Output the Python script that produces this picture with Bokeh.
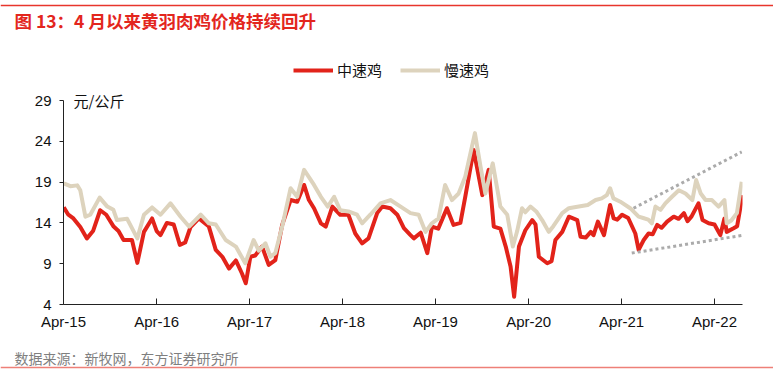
import pandas as pd
from bokeh.plotting import figure
from bokeh.layouts import column
from bokeh.models import (FixedTicker, DatetimeTickFormatter, Label, Legend, LegendItem,
                          Range1d, Span)
from bokeh.embed import file_html
from bokeh.resources import INLINE

# ---------------- data ----------------
title_text = "图 13：4 月以来黄羽肉鸡价格持续回升"
source_text = "数据来源：新牧网，东方证券研究所"
unit_text = "元/公斤"
series_names = ["中速鸡", "慢速鸡"]

mid_dates = ["2015-04-02", "2015-04-20", "2015-05-10", "2015-06-06", "2015-07-02", "2015-07-26",
             "2015-08-23", "2015-09-16", "2015-10-15", "2015-11-03", "2015-11-23", "2015-12-26",
             "2016-01-16", "2016-02-11", "2016-03-14", "2016-04-01", "2016-04-16", "2016-05-11",
             "2016-06-07", "2016-07-01", "2016-07-22", "2016-08-12", "2016-09-14", "2016-10-23",
             "2016-11-19", "2016-12-15", "2017-01-10", "2017-02-06", "2017-03-02", "2017-03-17",
             "2017-04-04", "2017-04-23", "2017-05-20", "2017-06-15", "2017-07-11", "2017-08-07",
             "2017-09-09", "2017-10-05", "2017-11-01", "2017-11-20", "2017-12-10", "2018-01-06",
             "2018-01-25", "2018-02-20", "2018-03-23", "2018-04-24", "2018-05-21", "2018-06-17",
             "2018-07-12", "2018-08-15", "2018-09-04", "2018-10-06", "2018-11-02", "2018-11-28",
             "2018-12-24", "2019-01-06", "2019-02-02", "2019-02-28", "2019-03-18", "2019-04-12",
             "2019-05-16", "2019-06-11", "2019-07-08", "2019-07-27", "2019-08-29", "2019-10-02",
             "2019-10-27", "2019-11-16", "2019-12-12", "2020-01-02", "2020-01-21", "2020-02-04",
             "2020-02-23", "2020-03-19", "2020-04-15", "2020-04-28", "2020-05-11", "2020-06-13",
             "2020-06-30", "2020-07-15", "2020-08-11", "2020-09-06", "2020-10-09", "2020-10-22",
             "2020-11-11", "2020-12-01", "2020-12-12", "2020-12-29", "2021-01-22", "2021-02-15",
             "2021-03-01", "2021-03-15", "2021-04-03", "2021-04-27", "2021-05-25", "2021-06-07",
             "2021-06-27", "2021-07-16", "2021-08-01", "2021-08-19", "2021-09-05", "2021-09-27",
             "2021-10-23", "2021-11-11", "2021-12-02", "2021-12-16", "2022-01-01", "2022-01-28",
             "2022-02-13", "2022-03-09", "2022-04-01", "2022-04-24", "2022-05-10", "2022-05-19",
             "2022-06-15", "2022-06-29", "2022-07-20"]
mid_values = [15.9, 15.0, 14.55, 13.5, 12.1, 13.0,
              15.55, 15.0, 13.55, 13.0, 11.9, 11.9,
              9.1, 12.9, 14.55, 13.0, 12.5, 14.0,
              13.8, 11.3, 11.6, 13.5, 14.55, 13.55,
              10.7, 9.85, 8.4, 9.4, 7.8, 6.6,
              9.85, 10.0, 11.1, 8.85, 9.45, 13.75,
              16.8, 16.6, 18.65, 16.8, 15.8, 13.95,
              13.55, 16.0, 15.0, 15.0, 12.7, 11.5,
              12.1, 15.2, 16.0, 15.8, 15.0, 13.35,
              12.5, 12.1, 12.8, 10.3, 13.55, 13.3,
              15.8, 13.75, 14.0, 17.2, 22.95, 17.4,
              20.5, 13.55, 13.3, 11.1, 8.65, 4.95,
              11.1, 13.1, 14.35, 13.8, 9.85, 9.05,
              9.3, 11.9, 12.9, 14.76, 14.35, 12.3,
              12.2, 12.9, 12.5, 14.15, 12.5, 16.2,
              14.55, 14.4, 15.0, 14.6, 12.7, 10.7,
              11.9, 12.7, 12.6, 13.75, 13.4, 14.15,
              14.76, 14.5, 15.2, 14.2, 14.8, 16.4,
              14.35, 13.95, 13.8, 12.5, 14.55, 12.9,
              13.35, 13.6, 17.4]

slow_dates = ["2015-04-02", "2015-04-28", "2015-05-25", "2015-06-06", "2015-06-26", "2015-07-15",
              "2015-08-21", "2015-09-20", "2015-10-14", "2015-10-28", "2015-12-07", "2016-01-16",
              "2016-02-11", "2016-03-14", "2016-04-16", "2016-05-25", "2016-07-04", "2016-08-06",
              "2016-09-21", "2016-10-23", "2016-11-19", "2016-12-28", "2017-02-06", "2017-03-15",
              "2017-04-17", "2017-05-07", "2017-06-02", "2017-06-22", "2017-07-11", "2017-08-07",
              "2017-09-09", "2017-10-05", "2017-11-01", "2017-11-20", "2017-12-10", "2018-01-06",
              "2018-02-02", "2018-02-27", "2018-03-23", "2018-04-24", "2018-05-28", "2018-06-17",
              "2018-07-19", "2018-08-28", "2018-10-06", "2018-11-15", "2018-12-24", "2019-01-25",
              "2019-02-21", "2019-03-18", "2019-04-13", "2019-05-09", "2019-06-05", "2019-07-01",
              "2019-07-27", "2019-09-03", "2019-09-25", "2019-10-14", "2019-11-12", "2019-12-12",
              "2020-01-08", "2020-01-30", "2020-02-16", "2020-03-06", "2020-03-19", "2020-04-08",
              "2020-05-01", "2020-05-24", "2020-06-19", "2020-07-07", "2020-08-11", "2020-09-06",
              "2020-10-15", "2020-11-19", "2020-12-20", "2021-01-13", "2021-02-02", "2021-02-15",
              "2021-02-28", "2021-03-27", "2021-05-05", "2021-06-07", "2021-06-25", "2021-07-15",
              "2021-07-29", "2021-08-12", "2021-09-01", "2021-09-20", "2021-10-16", "2021-11-12",
              "2021-12-08", "2022-01-04", "2022-01-19", "2022-02-06", "2022-02-25", "2022-03-22",
              "2022-04-17", "2022-05-10", "2022-05-19", "2022-06-06", "2022-06-28", "2022-07-17"]
slow_values = [18.85, 18.5, 18.6, 18.0, 14.76, 15.0,
               17.1, 16.0, 15.6, 14.35, 14.5, 12.1,
               15.0, 15.9, 15.0, 16.4, 14.76, 13.55,
               15.0, 13.95, 13.8, 11.9, 11.1, 9.05,
               11.9, 10.6, 11.5, 9.85, 10.3, 13.55,
               18.25, 17.2, 20.5, 19.6, 18.65, 17.2,
               16.0, 17.2, 15.55, 15.4, 15.0, 13.95,
               15.0, 16.4, 16.8, 16.0, 15.2, 15.0,
               12.9, 13.95, 14.55, 18.65, 16.8, 17.6,
               19.65, 25.0, 20.9, 17.6, 21.3, 16.0,
               15.0, 11.1, 13.0, 15.8, 15.3, 16.0,
               15.4, 14.35, 12.9, 13.6, 15.2, 15.8,
               16.0, 16.2, 16.8, 17.0, 17.4, 18.25,
               17.0, 16.6, 15.8, 14.76, 14.6, 14.4,
               13.95, 16.0, 15.6, 16.4, 17.2, 18.0,
               17.6, 16.8, 19.25, 17.6, 16.8, 16.8,
               16.0, 16.8, 13.95, 14.3, 15.2, 19.05]

trend_upper_dates = ["2021-05-18", "2022-07-17"]
trend_upper_values = [15.8, 22.7]
trend_lower_dates = ["2021-05-11", "2022-07-24"]
trend_lower_values = [10.3, 12.5]

tick_dates = ["2015-04-01", "2016-04-01", "2017-04-01", "2018-04-01",
              "2019-04-01", "2020-04-01", "2021-04-01", "2022-04-01"]
tick_labels = ["Apr-15", "Apr-16", "Apr-17", "Apr-18", "Apr-19", "Apr-20", "Apr-21", "Apr-22"]
y_ticks = [4, 9, 14, 19, 24, 29]

# ---------------- styling ----------------
RED = "#E2231A"
BEIGE = "#DDD3BD"
CJK = "Noto Sans CJK SC"
LAT = "Liberation Sans"
W = 773
H_HEAD, H_MAIN, H_FOOT = 56, 284, 34   # page rows: 0-56, 56-340, 340-374
FRAME_L, FRAME_R = 63, 742            # page x of the plot frame
FRAME_B = 304                         # page y of the x axis
PX_PER_UNIT = 204 / 25.0              # 25 units (4..29) over 204 px
Y_TOP = 4 + (FRAME_B - H_HEAD) / PX_PER_UNIT


def blank_fig(h, y0):
    f = figure(width=W, height=h, output_backend="svg", toolbar_location=None,
               x_range=Range1d(0, W), y_range=Range1d(y0 + h, y0),
               x_axis_location=None, y_axis_location=None, min_border=0,
               min_border_left=0, min_border_right=0, min_border_top=0, min_border_bottom=0,
               frame_align=False)
    f.outline_line_color = None
    f.grid.visible = False
    return f


# ---------- header: top rule + title ----------
head = blank_fig(H_HEAD, 0)
head.add_layout(Span(location=5, dimension="width", line_color="#E8352C", line_width=1.5))
head.add_layout(Label(x=14, y=20, text=title_text, text_font=CJK, text_font_size="17.5px",
                      text_font_style="bold", text_color="#E3261D", text_baseline="middle",
                      text_align="left"))

# ---------- main chart ----------
p = figure(width=W, height=H_MAIN, x_axis_type="datetime", output_backend="svg",
           toolbar_location=None, frame_align=False,
           x_range=Range1d(pd.Timestamp("2015-04-01"), pd.Timestamp("2022-07-20")),
           y_range=Range1d(4, Y_TOP),
           min_border_left=FRAME_L, min_border_right=W - FRAME_R,
           min_border_top=0, min_border_bottom=H_HEAD + H_MAIN - FRAME_B)
p.outline_line_color = None
p.grid.visible = False

r_mid = p.line(pd.to_datetime(mid_dates), mid_values, line_color=RED, line_width=4,
               line_join="round")
r_slow = p.line(pd.to_datetime(slow_dates), slow_values, line_color=BEIGE, line_width=4,
                line_join="round")
p.line(pd.to_datetime(trend_upper_dates), trend_upper_values, line_color="#ABABAB",
       line_width=3, line_dash="3 3")
p.line(pd.to_datetime(trend_lower_dates), trend_lower_values, line_color="#ABABAB",
       line_width=3, line_dash="3 3")

tick_ms = [pd.Timestamp(d).value // 10**6 for d in tick_dates]
xa = p.xaxis[0]
xa.ticker = FixedTicker(ticks=tick_ms)
fmt = "%b-%y"
xa.formatter = DatetimeTickFormatter(milliseconds=fmt, seconds=fmt, minsec=fmt, minutes=fmt,
                                     hourmin=fmt, hours=fmt, days=fmt, months=fmt, years=fmt)
xa.major_label_overrides = {t: l for t, l in zip(tick_ms, tick_labels)}
xa.major_tick_in = 6
xa.major_tick_out = 0
xa.minor_tick_line_color = None
xa.major_label_standoff = 8
xa.major_label_text_font = LAT
xa.major_label_text_font_size = "15px"
xa.major_label_text_color = "#111111"
xa.axis_line_color = "#222222"
xa.major_tick_line_color = "#222222"

ya = p.yaxis[0]
ya.ticker = FixedTicker(ticks=y_ticks)
ya.bounds = (4, 29)
ya.major_tick_in = 0
ya.major_tick_out = 4
ya.minor_tick_line_color = None
ya.major_label_standoff = 8
ya.major_label_text_font = LAT
ya.major_label_text_font_size = "15px"
ya.major_label_text_color = "#111111"
ya.axis_line_color = "#222222"
ya.major_tick_line_color = "#222222"

legend = Legend(items=[LegendItem(label=series_names[0], renderers=[r_mid]),
                       LegendItem(label=series_names[1], renderers=[r_slow])],
                orientation="horizontal", location=(293 - FRAME_L, FRAME_B - 72 - 8),
                glyph_width=40, glyph_height=16, label_height=16, label_standoff=4,
                spacing=18, padding=0, margin=0, border_line_color=None,
                background_fill_alpha=0, label_text_font=CJK,
                label_text_font_size="15px", label_text_color="#111111")
p.add_layout(legend, "center")

p.add_layout(Label(x=73 - FRAME_L, y=FRAME_B - 100, x_units="screen", y_units="screen",
                   text=unit_text, text_font=CJK, text_font_size="15px", text_color="#111111",
                   text_baseline="middle", text_align="left"))

# ---------- footer: source + bottom rule ----------
foot = blank_fig(H_FOOT, H_HEAD + H_MAIN)
foot.add_layout(Label(x=14, y=357, text=source_text, text_font=CJK, text_font_size="14px",
                      text_color="#7F7F7F", text_baseline="middle", text_align="left"))
foot.add_layout(Span(location=367, dimension="width", line_color="#EE8078", line_width=1.5))

layout = column(head, p, foot, spacing=0)
open("out.html", "w").write(file_html(layout, INLINE))
